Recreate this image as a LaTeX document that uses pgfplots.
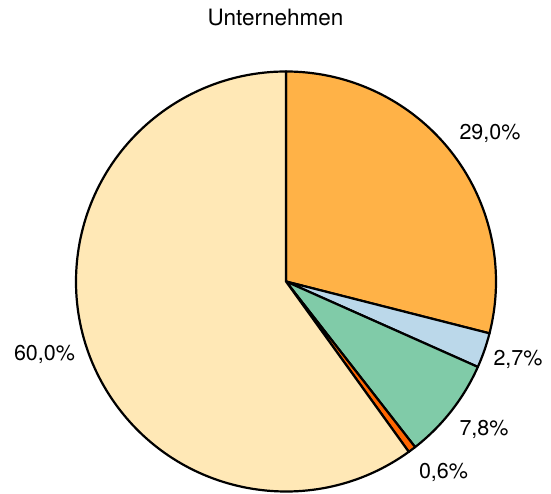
\documentclass[border=0pt]{standalone}
\usepackage{pgfplots}
\pgfplotsset{compat=1.18}
\usepackage{pgfplotstable}
\usepackage{fontspec}
\setmainfont{TeX Gyre Heros}
\definecolor{cA}{RGB}{255,178,71}
\definecolor{cB}{RGB}{187,216,234}
\definecolor{cC}{RGB}{128,203,168}
\definecolor{cD}{RGB}{255,102,0}
\definecolor{cE}{RGB}{255,232,182}
\pgfplotstableread{
val col lx ly
29.0 cA 204 148
2.7 cB 232 -78
7.8 cC 198 -148
0.6 cD 157.5 -191
60.0 cE -241.5 -73
}\piedata
\begin{document}
\begin{tikzpicture}
\begin{axis}[
  hide axis, x=1pt, y=1pt, scale only axis,
  xmin=-286, xmax=265, ymin=-212.5, ymax=281.5,
  clip=false,
  /pgf/number format/assume math mode=true,
]
\addplot[draw=none] coordinates {(0,0)};
\pgfplotsextra{%
  \gdef\total{0}%
  \foreach \i in {0,...,4}{%
    \pgfplotstablegetelem{\i}{val}\of\piedata
    \pgfmathsetmacro\tmp{\total+\pgfplotsretval}%
    \xdef\total{\tmp}%
  }%
  \gdef\curang{90}%
  \foreach \i in {0,...,4}{%
    \pgfplotstablegetelem{\i}{val}\of\piedata \let\v\pgfplotsretval
    \pgfplotstablegetelem{\i}{col}\of\piedata \let\col\pgfplotsretval
    \pgfplotstablegetelem{\i}{lx}\of\piedata \let\lx\pgfplotsretval
    \pgfplotstablegetelem{\i}{ly}\of\piedata \let\ly\pgfplotsretval
    \pgfmathsetmacro\sweep{(\v/\total)*360}%
    \pgfmathsetmacro\endang{\curang-\sweep}%
    \filldraw[fill=\col, draw=black, line width=2.2pt, line join=round]
      (axis cs:0,0) -- ++(\curang:210pt) arc[start angle=\curang, end angle=\endang, radius=210pt] -- cycle;
    \node[font=\fontsize{21.5}{25}\selectfont, anchor=center, inner sep=0pt]
      at (axis cs:\lx,\ly) {\vphantom{0}\pgfmathprintnumber[fixed,fixed zerofill,precision=1,use comma]{\v}\%};
    \xdef\curang{\endang}%
  }%
}
\node[font=\fontsize{22.5}{26}\selectfont, anchor=base] at (axis cs:-10.5,255.5) {Unternehmen};
\coordinate (bl) at (axis cs:-286,-212.5);
\coordinate (tr) at (axis cs:265,281.5);
\end{axis}
\pgfresetboundingbox
\path[use as bounding box] (bl) rectangle (tr);
\end{tikzpicture}
\end{document}
